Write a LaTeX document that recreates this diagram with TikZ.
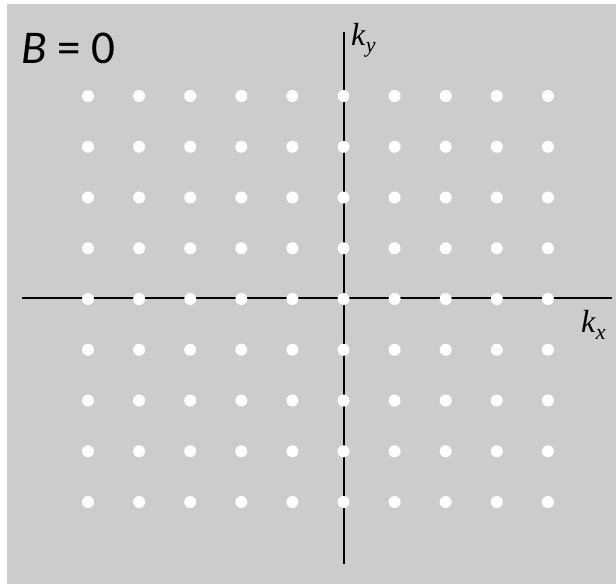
\documentclass[tikz,border=0pt]{standalone}
\usepackage{fontspec}
\setmainfont{Carlito}
\newfontfamily\serifit{Liberation Serif}
\tikzset{
  dotnode/.style={circle,fill=white,inner sep=0pt,minimum width=12pt,minimum height=12pt},
  axisline/.style={line width=1.6pt,black},
  klabel/.style={anchor=base west,inner sep=0pt,font=\serifit\fontsize{32}{34}\selectfont},
}
\newcommand{\subsc}[1]{\raisebox{-7pt}{\fontsize{22}{24}\selectfont\textit{#1}}}
\definecolor{bggray}{HTML}{CCCCCC}
\begin{document}
\begin{tikzpicture}[x=1pt,y=-1pt]
\useasboundingbox (0,0) rectangle (616,584);
\fill[bggray] (7,4) rectangle (616,584);
% axes
\coordinate (xl) at (22,298);
\coordinate (xr) at (612,298);
\coordinate (yt) at (344,32);
\coordinate (yb) at (344,564);
\draw[axisline] (xl) -- (xr);
\draw[axisline] (yt) -- (yb);
% dots
\foreach \i in {0,...,9}{
  \foreach \j in {0,...,8}{
    \node[dotnode] (d-\i-\j) at ({88+51.1*\i},{96+50.75*\j}) {};
  }
}
% labels
\node[anchor=base west,inner sep=0pt,font=\fontsize{47}{52}\selectfont] (B) at (21,63) {\textit{B} = 0};
\node[klabel] (ky) at (351,45) {\textit{k}\subsc{y}};
\node[klabel] (kx) at (581,332) {\textit{k}\subsc{x}};
\end{tikzpicture}
\end{document}
